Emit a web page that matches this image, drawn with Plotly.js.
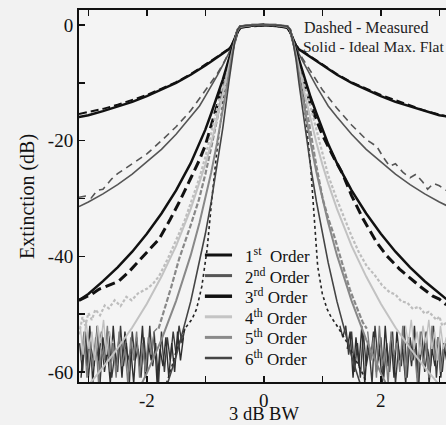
<!DOCTYPE html>
<html>
<head>
<meta charset="utf-8">
<script src="https://cdn.plot.ly/plotly-3.0.1.min.js"></script>
<style>html,body{margin:0;padding:0;background:#f2f2f2;}</style>
</head>
<body>
<div id="chart" style="width:446px;height:425px;"></div>
<script>
// ---- Ideal maximally flat responses ----
const xIdeal = [-3.16,-3,-2.75,-2.5,-2.25,-2,-1.75,-1.5,-1.25,-1.1,-1,-0.9,-0.8,-0.7,-0.6,-0.55,-0.5,-0.45,-0.4,-0.2,0,0.2,0.4,0.45,0.5,0.55,0.6,0.7,0.8,0.9,1,1.1,1.25,1.5,1.75,2,2.25,2.5,2.75,3,3.12];
const ideal1 = [-15.9,-15.6,-14.9,-14.1,-13.3,-12.3,-11.2,-10.0,-8.6,-7.7,-7.0,-6.3,-5.6,-4.9,-4.2,-3.6,-2.4,-1.2,-0.5,-0.1,0,-0.1,-0.5,-1.2,-2.4,-3.6,-4.2,-4.9,-5.6,-6.3,-7.0,-7.7,-8.6,-10.0,-11.2,-12.3,-13.3,-14.1,-14.9,-15.6,-15.8];
const ideal2 = [-31.4,-30.6,-29.2,-27.6,-25.8,-23.7,-21.5,-18.9,-15.9,-14.0,-12.3,-10.6,-8.8,-6.9,-5.0,-3.9,-2.6,-1.1,-0.4,-0.1,0,-0.1,-0.4,-1.1,-2.6,-3.9,-5.0,-6.9,-8.8,-10.6,-12.3,-14.0,-15.9,-18.9,-21.5,-23.7,-25.8,-27.6,-29.2,-30.6,-31.2];
const ideal3 = [-47.6,-46.5,-44.3,-41.9,-39.2,-36.1,-32.6,-28.6,-23.9,-20.6,-18.1,-15.3,-12.5,-9.4,-6.0,-4.3,-2.7,-1.0,-0.3,0,0,0,-0.3,-1.0,-2.7,-4.3,-6.0,-9.4,-12.5,-15.3,-18.1,-20.6,-23.9,-28.6,-32.6,-36.1,-39.2,-41.9,-44.3,-46.5,-47.4];
const ideal4 = [-64.1,-62.3,-59.2,-55.9,-52.3,-48.2,-43.5,-38.2,-31.8,-27.4,-24.1,-20.4,-16.4,-12.0,-7.2,-4.8,-2.8,-0.9,-0.3,0,0,0,-0.3,-0.9,-2.8,-4.8,-7.2,-12.0,-16.4,-20.4,-24.1,-27.4,-31.8,-38.2,-43.5,-48.2,-52.3,-55.9,-59.2,-62.3,-63.7];
const ideal5 = [-80.0,-77.8,-74.0,-69.9,-65.3,-60.2,-54.4,-47.7,-39.8,-34.2,-30.1,-25.5,-20.4,-14.8,-8.6,-5.4,-2.9,-0.8,-0.2,0,0,0,-0.2,-0.8,-2.9,-5.4,-8.6,-14.8,-20.4,-25.5,-30.1,-34.2,-39.8,-47.7,-54.4,-60.2,-65.3,-69.9,-74.0,-77.8,-79.5];
const ideal6 = [-96.0,-93.4,-88.8,-83.9,-78.4,-72.2,-65.3,-57.3,-47.8,-41.1,-36.1,-30.6,-24.5,-17.7,-10.0,-6.0,-3.0,-0.8,-0.2,0,0,0,-0.2,-0.8,-3.0,-6.0,-10.0,-17.7,-24.5,-30.6,-36.1,-41.1,-47.8,-57.3,-65.3,-72.2,-78.4,-83.9,-88.8,-93.4,-95.5];

const xMeas1 = [-3.16,-3,-2.75,-2.5,-2.25,-2,-1.75,-1.5,-1.25,-1,-0.8,-0.6,-0.55,-0.5,-0.45,-0.4,0,0.4,0.45,0.5,0.55,0.6,0.8,1,1.25,1.5,1.75,2,2.25,2.5,2.75,3,3.12];
const meas1 = [-15.4,-15.1,-14.5,-13.8,-13.0,-12.1,-11.0,-9.9,-8.5,-6.9,-5.5,-4.1,-3.5,-2.4,-1.2,-0.4,0,-0.4,-1.2,-2.4,-3.5,-4.1,-5.5,-6.9,-8.5,-9.9,-11.0,-12.1,-13.0,-13.9,-14.8,-15.5,-15.8];
const xMeas2 = [-3.16,-3.05,-2.95,-2.85,-2.75,-2.6,-2.5,-2.25,-2,-1.75,-1.5,-1.25,-1,-0.9,-0.8,-0.7,-0.6,-0.55,-0.5,-0.45,-0.4,0,0.4,0.45,0.5,0.55,0.6,0.7,0.8,0.9,1,1.25,1.5,1.75,1.93,2.05,2.15,2.25,2.38,2.5,2.6,2.72,2.8,2.9,3,3.12];
const meas2 = [-29.8,-29.6,-29.9,-28.6,-28.4,-26.6,-25.7,-24.0,-22.3,-20.0,-17.6,-14.8,-11.4,-10.0,-8.5,-6.8,-5.0,-3.9,-2.6,-1.1,-0.4,0,-0.4,-1.1,-2.6,-3.9,-4.8,-6.4,-8.0,-9.6,-11.2,-14.4,-17.3,-19.8,-21.0,-23.0,-24.4,-24.0,-25.5,-26.4,-25.8,-27.2,-28.4,-27.4,-27.8,-28.6];
const xMeas3 = [-3.16,-3.05,-2.95,-2.82,-2.65,-2.48,-2.3,-2.14,-2,-1.79,-1.6,-1.45,-1.25,-1.1,-1,-0.9,-0.8,-0.7,-0.6,-0.55,-0.5,-0.45,-0.4,0,0.4,0.45,0.5,0.55,0.6,0.7,0.8,0.9,1,1.2,1.35,1.5,1.7,1.93,2.1,2.32,2.5,2.67,2.89,3.0,3.12];
const meas3 = [-47.6,-47.0,-46.6,-45.7,-45.0,-44.3,-42.6,-40.9,-39.3,-37.0,-33.6,-30.7,-26.5,-23.3,-20.8,-17.5,-14.0,-10.2,-6.5,-4.5,-2.7,-1.0,-0.3,0,-0.3,-1.0,-2.7,-4.5,-6.5,-10.2,-13.8,-16.5,-19.0,-23.0,-25.8,-29.5,-33.6,-37.6,-39.9,-42.2,-43.8,-45.2,-46.9,-47.4,-48.4];
const xMeas4 = [-3.16,-3.1,-3.05,-3.0,-2.94,-2.88,-2.8,-2.72,-2.65,-2.55,-2.45,-2.35,-2.26,-2.15,-2.0,-1.9,-1.79,-1.65,-1.5,-1.36,-1.23,-1.1,-1.0,-0.9,-0.8,-0.7,-0.6,-0.55,-0.5,-0.45,-0.4,0,0.4,0.45,0.5,0.55,0.6,0.7,0.8,0.9,1.0,1.1,1.25,1.38,1.5,1.62,1.76,1.9,2.02,2.15,2.25,2.35,2.45,2.55,2.65,2.75,2.82,2.89,2.95,3.0,3.05,3.12];
const meas4 = [-53.5,-50.5,-52.0,-49.8,-51.0,-49.2,-50.2,-48.5,-49.0,-47.6,-48.6,-47.0,-47.6,-46.4,-45.6,-44.8,-43.4,-40.6,-37.2,-34.0,-30.2,-26.4,-22.8,-18.6,-14.4,-10.3,-6.3,-4.5,-2.8,-0.9,-0.3,0,-0.3,-0.9,-2.8,-4.5,-6.3,-10.3,-14.2,-18.2,-22.0,-26.0,-30.2,-33.6,-36.5,-39.2,-41.7,-43.3,-45.0,-46.2,-46.6,-47.8,-48.0,-49.1,-48.7,-49.9,-49.6,-50.3,-51.0,-50.4,-52.0,-51.5];
const xMeas5 = [-1.8,-1.74,-1.68,-1.58,-1.45,-1.35,-1.25,-1.11,-1.0,-0.9,-0.8,-0.7,-0.6,-0.55,-0.5,-0.45,-0.4,0,0.4,0.45,0.5,0.55,0.6,0.7,0.8,0.9,1.01,1.1,1.2,1.33,1.47,1.58,1.69,1.76];
const meas5 = [-52.5,-50.6,-48.6,-45.2,-40.5,-37.6,-34.6,-30.2,-25.8,-21.2,-16.2,-11.0,-6.6,-4.9,-2.9,-0.8,-0.2,0,-0.2,-0.8,-2.9,-4.9,-6.8,-12.6,-18.5,-24.5,-30.2,-33.4,-36.4,-41.0,-45.7,-48.6,-51.4,-52.5];
const xMeas6 = [-1.7,-1.6,-1.5,-1.35,-1.23,-1.15,-1.06,-0.97,-0.89,-0.8,-0.7,-0.6,-0.55,-0.5,-0.45,-0.4,0,0.4,0.45,0.5,0.55,0.6,0.7,0.8,0.84,0.92,1.0,1.08,1.15,1.25,1.4,1.55,1.7,1.8];
const meas6 = [-63,-60,-56.5,-52.5,-50.9,-49.1,-45.2,-38.8,-30.2,-21.5,-13.5,-6.8,-5.0,-3.0,-0.8,-0.2,0,-0.2,-0.8,-3.0,-5.0,-6.8,-14.5,-24.5,-30.2,-41.7,-46.5,-49.1,-50.5,-52.0,-54.5,-57.5,-60.5,-63];

// ---- Measured noise floor ----
const xNoise6L = [-3.15,-3.10,-3.05,-3.00,-2.95,-2.90,-2.85,-2.80,-2.75,-2.70,-2.65,-2.60,-2.55,-2.50,-2.45,-2.40,-2.35,-2.30,-2.25,-2.20,-2.15,-2.10,-2.05,-2.00,-1.95,-1.90,-1.85,-1.80,-1.75,-1.70,-1.65,-1.60,-1.55,-1.50,-1.45,-1.40,-1.35];
const noise6L = [-55,-60,-53,-61,-56,-59,-52,-62,-54,-58,-53,-61,-57,-60,-52,-59,-55,-62,-53,-58,-56,-61,-54,-60,-52,-59,-55,-62,-53,-60,-54,-58,-53,-57,-52,-55,-52.5];
const xNoise6R = [1.30,1.35,1.40,1.45,1.50,1.55,1.60,1.65,1.70,1.75,1.80,1.85,1.90,1.95,2.00,2.05,2.10,2.15,2.20,2.25,2.30,2.35,2.40,2.45,2.50,2.55,2.60,2.65,2.70,2.75,2.80,2.85,2.90,2.95,3.00,3.05,3.10];
const noise6R = [-52,-54,-52,-57,-53,-60,-55,-61,-53,-59,-56,-62,-52,-58,-54,-61,-55,-60,-53,-62,-56,-59,-52,-61,-54,-58,-55,-62,-53,-60,-56,-59,-52,-61,-54,-60,-55];
const xNoise6bL = [-3.125,-3.075,-3.025,-2.975,-2.925,-2.875,-2.825,-2.775,-2.725,-2.675,-2.625,-2.575,-2.525,-2.475,-2.425,-2.375,-2.325,-2.275,-2.225,-2.175,-2.125,-2.075,-2.025,-1.975,-1.925,-1.875,-1.825,-1.775,-1.725,-1.675,-1.625,-1.575,-1.525,-1.475,-1.425,-1.375];
const noise6bL = [-61,-54,-59,-52,-62,-55,-58,-53,-60,-56,-62,-52,-59,-54,-61,-53,-58,-56,-62,-54,-59,-52,-61,-55,-58,-53,-62,-56,-59,-54,-61,-55,-60,-53,-58,-54];
const xNoise6bR = [1.425,1.475,1.525,1.575,1.625,1.675,1.725,1.775,1.825,1.875,1.925,1.975,2.025,2.075,2.125,2.175,2.225,2.275,2.325,2.375,2.425,2.475,2.525,2.575,2.625,2.675,2.725,2.775,2.825,2.875,2.925,2.975,3.025,3.075,3.125];
const noise6bR = [-56,-53,-61,-54,-59,-52,-62,-55,-58,-53,-60,-56,-62,-52,-59,-54,-61,-53,-58,-56,-62,-54,-59,-52,-61,-55,-58,-53,-62,-56,-59,-54,-61,-55,-58];
const xNoise5L = [-3.125,-3.075,-3.025,-2.975,-2.925,-2.875,-2.825,-2.775,-2.725,-2.675,-2.625,-2.575,-2.525,-2.475,-2.425,-2.375,-2.325,-2.275,-2.225,-2.175,-2.125,-2.075,-2.025,-1.975,-1.925,-1.875,-1.825];
const noise5L = [-58,-53,-61,-55,-59,-54,-62,-56,-58,-52,-60,-55,-61,-53,-59,-56,-62,-54,-58,-53,-61,-55,-60,-54,-57,-53,-52.5];
const xNoise5R = [1.775,1.825,1.875,1.925,1.975,2.025,2.075,2.125,2.175,2.225,2.275,2.325,2.375,2.425,2.475,2.525,2.575,2.625,2.675,2.725,2.775,2.825,2.875,2.925,2.975,3.025,3.075];
const noise5R = [-53,-58,-54,-61,-52,-59,-56,-62,-53,-57,-55,-60,-52,-61,-54,-58,-56,-62,-53,-59,-55,-61,-52,-58,-54,-60,-56];
const xNoise4L = [-3.14,-3.09,-3.04,-2.99,-2.94,-2.89,-2.84,-2.79,-2.74,-2.69,-2.64,-2.59];
const noise4L = [-52,-57,-51,-56,-53,-58,-52,-55,-51,-57,-53,-55];
const xNoise4R = [2.42,2.47,2.52,2.57,2.62,2.67,2.72,2.77,2.82,2.87,2.92,2.97,3.02,3.07,3.12];
const noise4R = [-52,-55,-51,-56,-53,-57,-52,-55,-51,-56,-53,-58,-52,-56,-54];

const orderNames = ['1<sup>st</sup>  Order','2<sup>nd</sup> Order','3<sup>rd</sup> Order','4<sup>th</sup> Order','5<sup>th</sup> Order','6<sup>th</sup> Order'];
const xTicks = [-3,-2,-1,0,1,2,3];
const xTickText = ['','-2','','0','','2',''];
const yTicks = [-60,-50,-40,-30,-20,-10,0];
const yTickText = ['-60','','-40','','-20','','0'];

const FONT = '"Liberation Serif", serif';
const colors = ['#111111','#555555','#111111','#c2c2c2','#888888','#444444'];
const idealW = [2.5,1.6,2.5,2,2,1.6];
const keyColors = ['#111111','#555555','#111111','#c4c4c4','#8a8a8a','#444444'];
const keyW = [3,3,3.5,3,3,2.5];

const idealY = [ideal1,ideal2,ideal3,ideal4,ideal5,ideal6];
const measX = [xMeas1,xMeas2,xMeas3,xMeas4,xMeas5,xMeas6];
const measY = [meas1,meas2,meas3,meas4,meas5,meas6];
const measDash = ['8px,4px','7px,5px','10px,5px','3px,2px','5px,2px','3px,3px'];
const measW = [2,1.6,3,2.2,2.2,1.6];
const measC = ['#111111','#555555','#111111','#bdbdbd','#888888','#222222'];

const traces = [];
[[xNoise6L,noise6L,'#3a3a3a'],[xNoise6R,noise6R,'#3a3a3a'],[xNoise6bL,noise6bL,'#2e2e2e'],[xNoise6bR,noise6bR,'#2e2e2e'],
 [xNoise5L,noise5L,'#7d7d7d'],[xNoise5R,noise5R,'#7d7d7d'],[xNoise4L,noise4L,'#c0c0c0'],[xNoise4R,noise4R,'#c0c0c0']].forEach(a=>{
  traces.push({x:a[0],y:a[1],mode:'lines',line:{color:a[2],width:1.4},showlegend:false,hoverinfo:'skip'});
});
for(let i=0;i<6;i++){
  traces.push({x:measX[i],y:measY[i],mode:'lines',line:{color:measC[i],width:measW[i],dash:measDash[i]},showlegend:false,hoverinfo:'skip'});
}
for(let i=0;i<6;i++){
  traces.push({x:xIdeal,y:idealY[i],mode:'lines',name:orderNames[i],line:{color:colors[i],width:idealW[i]},showlegend:false});
}

// key (legend) rows, in plot-fraction units
const keyRowY = [0.3414,0.2860,0.2306,0.1753,0.1199,0.0645];
const shapes = [];
const annotations = [
  {x:0.65,y:-0.4,xref:'x',yref:'y',text:'Dashed - Measured',showarrow:false,xanchor:'left',yanchor:'middle',font:{family:FONT,size:16,color:'#222'}},
  {x:0.63,y:-3.7,xref:'x',yref:'y',text:'Solid - Ideal Max. Flat',showarrow:false,xanchor:'left',yanchor:'middle',font:{family:FONT,size:15.5,color:'#222'}},
  {x:0,y:-0.1156,xref:'x',yref:'paper',text:'3 dB BW',showarrow:false,xanchor:'center',yanchor:'bottom',borderpad:0,font:{family:FONT,size:18.5,color:'#111'}},
  {x:-0.142,y:0.5,xref:'paper',yref:'paper',text:'Extinction (dB)',textangle:-90,showarrow:false,xanchor:'center',yanchor:'middle',font:{family:FONT,size:20,color:'#111'}}
];
for(let i=0;i<6;i++){
  shapes.push({type:'line',xref:'paper',yref:'paper',x0:0.343,x1:0.417,y0:keyRowY[i],y1:keyRowY[i],line:{color:keyColors[i],width:keyW[i]}});
  annotations.push({x:0.447,y:keyRowY[i],xref:'paper',yref:'paper',text:orderNames[i],showarrow:false,xanchor:'left',yanchor:'middle',font:{family:FONT,size:17,color:'#111'}});
}

const layout = {
  width:446,height:425,
  margin:{l:79,r:0,t:10,b:43},
  paper_bgcolor:'#f2f2f2',plot_bgcolor:'#f4f4f4',
  font:{family:FONT,color:'#111',size:17},
  showlegend:false,
  xaxis:{range:[-3.16,3.114],tickmode:'array',tickvals:xTicks,ticktext:xTickText,ticks:'inside',ticklen:6,tickwidth:1.5,tickcolor:'#111',
    showline:true,linewidth:2,linecolor:'#111',mirror:'ticks',showgrid:false,zeroline:false,
    tickfont:{family:FONT,size:19,color:'#111'}},
  yaxis:{range:[-61.73,2.59],tickmode:'array',tickvals:yTicks,ticktext:yTickText,ticks:'inside',ticklen:6,tickwidth:1.5,tickcolor:'#111',
    showline:true,linewidth:2,linecolor:'#111',mirror:false,showgrid:false,zeroline:false,
    tickfont:{family:FONT,size:19,color:'#111'}},
  shapes:shapes,
  annotations:annotations
};
Plotly.newPlot('chart',traces,layout,{staticPlot:true,displayModeBar:false});
</script>
</body>
</html>
